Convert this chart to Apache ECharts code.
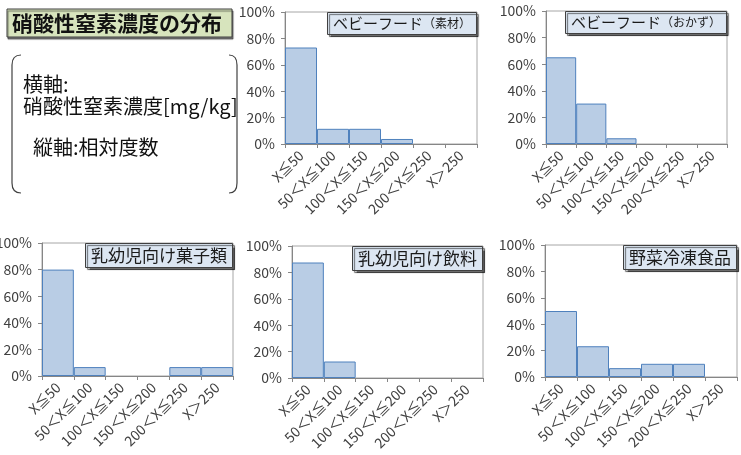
<!DOCTYPE html>
<html>
<head>
<meta charset="utf-8">
<script src="https://cdn.jsdelivr.net/npm/echarts@6/dist/echarts.min.js"></script>
<style>
  html, body { margin: 0; padding: 0; background: #fff; }
  #chart { width: 741px; height: 455px; }
</style>
</head>
<body>
<div id="chart"></div>
<script>
  // 階級（横軸）
  const categories = ['X≦50', '50＜X≦100', '100＜X≦150', '150＜X≦200', '200＜X≦250', 'X＞250'];
  const yTicks = [0, 20, 40, 60, 80, 100];

  // 相対度数 [%]
  const babyRaw = [73.1, 11.5, 11.5, 3.8, 0, 0];
  const babySide = [65.2, 30.4, 4.3, 0, 0, 0];
  const infantSnack = [80.0, 6.7, 0, 0, 6.7, 6.7];
  const infantDrink = [87.5, 12.5, 0, 0, 0, 0];
  const frozenVeg = [50.0, 23.3, 6.7, 10.0, 10.0, 0];

  const panelNames = [
    '{a|ベビーフード}{b|（素材）}',
    '{a|ベビーフード}{b|（おかず）}',
    '乳幼児向け菓子類',
    '乳幼児向け飲料',
    '野菜冷凍食品'
  ];
  const panelData = [babyRaw, babySide, infantSnack, infantDrink, frozenVeg];

  // grid の位置（px）
  const grids = [
    { left: 285, right: 264, top: 12, height: 132 },
    { left: 546, right: 14, top: 11, height: 133 },
    { left: 42, right: 508, top: 243, height: 133 },
    { left: 292, right: 258, top: 246, height: 132 },
    { left: 545, right: 4, top: 245, height: 132 }
  ];

  const font = '"Noto Sans CJK JP", "Noto Sans", sans-serif';
  const lineStyle = { stroke: '#404040', lineWidth: 1.2, fill: 'none' };

  // かっこ型の枠
  function bracket(x0, xEdge) {
    return [
      { type: 'bezierCurve', shape: { x1: x0, y1: 55, cpx1: xEdge, cpy1: 55, x2: xEdge, y2: 65 }, style: lineStyle },
      { type: 'line', shape: { x1: xEdge, y1: 65, x2: xEdge, y2: 183 }, style: lineStyle },
      { type: 'bezierCurve', shape: { x1: xEdge, y1: 183, cpx1: xEdge, cpy1: 193, x2: x0, y2: 193 }, style: lineStyle }
    ];
  }

  const chart = echarts.init(document.getElementById('chart'));

  const option = {
    backgroundColor: '#fff',
    animation: false,
    textStyle: { fontFamily: font },
    grid: grids.map(g => Object.assign({ show: true, borderColor: '#a6a6a6', borderWidth: 1, containLabel: false, outerBoundsMode: 'none' }, g)),
    xAxis: grids.map((g, i) => ({
      type: 'category',
      gridIndex: i,
      data: categories,
      z: 5,
      axisLine: { lineStyle: { color: '#868686' } },
      axisTick: { show: true, length: 4, lineStyle: { color: '#868686' } },
      axisLabel: { rotate: 45, interval: 0, margin: 9, fontSize: 14, color: '#404040', fontFamily: font }
    })),
    yAxis: grids.map((g, i) => ({
      type: 'value',
      gridIndex: i,
      min: yTicks[0],
      max: yTicks[yTicks.length - 1],
      interval: 20,
      axisLine: { show: true, lineStyle: { color: '#868686' } },
      axisTick: { show: true, length: 4, lineStyle: { color: '#868686' } },
      splitLine: { show: false },
      axisLabel: { margin: 10, fontSize: 14, color: '#404040', fontFamily: font, formatter: '{value}%' }
    })),
    series: panelData.map((d, i) => ({
      type: 'bar',
      xAxisIndex: i,
      yAxisIndex: i,
      // 0 の階級は枠線を描かない
      data: d.map(v => (v === 0 ? { value: v, itemStyle: { borderWidth: 0 } } : v)),
      barCategoryGap: '0%',
      itemStyle: { color: '#b9cde5', borderColor: '#4f81bd', borderWidth: 1 }
    })),
    title: panelNames.map((name, i) => ({
      text: name,
      right: grids[i].right,
      top: grids[i].top,
      padding: [4, 6],
      backgroundColor: '#dce6f2',
      borderColor: '#404040',
      borderWidth: 1,
      shadowColor: 'rgba(0,0,0,0.55)',
      shadowBlur: 1,
      shadowOffsetX: 2,
      shadowOffsetY: 2,
      textStyle: {
        fontSize: 17,
        fontWeight: 'normal',
        color: '#1a1a1a',
        fontFamily: font,
        rich: {
          a: { fontSize: 15, color: '#1a1a1a', fontFamily: font },
          b: { fontSize: 12, color: '#1a1a1a', fontFamily: font }
        }
      }
    })),
    graphic: [
      {
        type: 'rect',
        shape: { x: 7, y: 9, width: 225, height: 28 },
        style: { fill: '#d7e4bd', stroke: '#404040', lineWidth: 1, shadowColor: 'rgba(0,0,0,0.5)', shadowBlur: 1, shadowOffsetX: 1, shadowOffsetY: 2 }
      },
      {
        type: 'text',
        style: { text: '硝酸性窒素濃度の分布', x: 12, y: 23, font: 'bold 21px ' + font, fill: '#111', textVerticalAlign: 'middle' }
      }
    ].concat(bracket(21, 12), bracket(229, 237), [
      {
        type: 'text',
        style: { text: '横軸:', x: 23, y: 84, font: '20px ' + font, fill: '#111', textVerticalAlign: 'middle' }
      },
      {
        type: 'text',
        style: { text: '硝酸性窒素濃度[mg/kg]', x: 23, y: 106, font: '20px ' + font, fill: '#111', textVerticalAlign: 'middle' }
      },
      {
        type: 'text',
        style: { text: '縦軸:相対度数', x: 33, y: 147, font: '20px ' + font, fill: '#111', textVerticalAlign: 'middle' }
      }
    ])
  };

  chart.setOption(option);
</script>
</body>
</html>
